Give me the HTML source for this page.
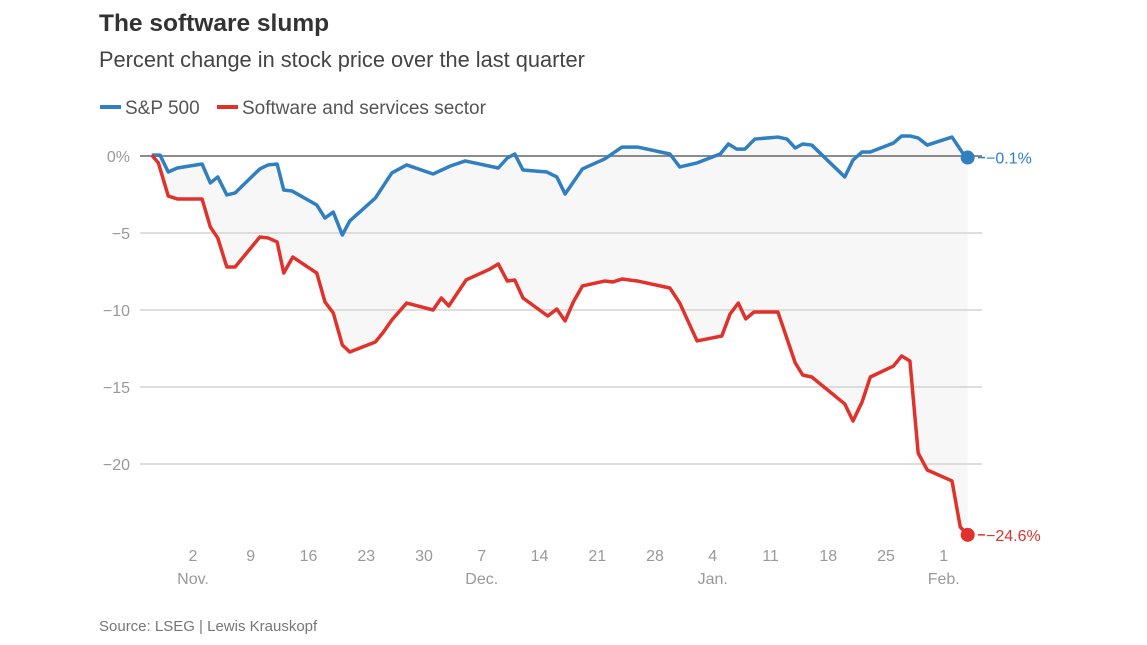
<!DOCTYPE html>
<html><head><meta charset="utf-8"><style>
body{margin:0;background:#fff;width:1147px;height:645px;overflow:hidden;font-family:"Liberation Sans",sans-serif}
</style></head><body>
<svg width="1147" height="645" style="position:absolute;left:0;top:0">
<text x="99" y="31" font-size="24.5" font-weight="bold" fill="#333">The software slump</text>
<text x="99" y="67" font-size="21.8" fill="#444">Percent change in stock price over the last quarter</text>
<g>
<line x1="100" y1="107" x2="121" y2="107" stroke="#2f7fc1" stroke-width="4"/>
<text x="125" y="114" font-size="19" fill="#555">S&amp;P 500</text>
<line x1="217" y1="107" x2="238" y2="107" stroke="#e0312b" stroke-width="4"/>
<text x="242" y="114" font-size="19" fill="#555">Software and services sector</text>
</g>
<g id="grid"></g><g id="marks"></g><g id="labels"></g>
<text x="99" y="631" font-size="15" fill="#777">Source: LSEG | Lewis Krauskopf</text>
</svg>
<script>
const yTicks=[0,-5,-10,-15,-20];
const yTickLabels=["0%","−5","−10","−15","−20"];
const xTickDays=[0,7,14,21,28,35,42,49,56,63,70,77,84,91];
const xTickLabels=["2","9","16","23","30","7","14","21","28","4","11","18","25","1"];
const monthLabels=[[0,"Nov."],[35,"Dec."],[63,"Jan."],[91,"Feb."]];
const spDays=[-5,-4,-3,-1.9,1.1,2.1,3,4.1,5.1,8.1,9.1,10.2,11,12,15,16,17,18.1,19,22.1,24.1,25.9,29.1,31.2,33,37,38.1,39,40,42.9,44.1,45.1,47.2,49.9,52,53.9,57.8,59,61.1,63.9,64.9,65.9,66.9,68.1,70.9,72,73,73.9,75,79,80,81.1,82.1,84.9,85.9,86.9,87.9,89,92,93.3,93.9];
const spValues=[0.06,0.06,-1.04,-0.78,-0.52,-1.75,-1.36,-2.53,-2.4,-0.84,-0.58,-0.52,-2.21,-2.27,-3.18,-4.03,-3.64,-5.13,-4.22,-2.73,-1.1,-0.58,-1.17,-0.65,-0.32,-0.78,-0.13,0.13,-0.91,-1.04,-1.36,-2.47,-0.84,-0.19,0.58,0.58,0.13,-0.71,-0.45,0.13,0.78,0.45,0.45,1.1,1.23,1.1,0.52,0.78,0.71,-1.36,-0.26,0.26,0.26,0.84,1.3,1.3,1.17,0.71,1.23,0.19,-0.1];
const swDays=[-5,-4.2,-3,-1.9,1.1,2.1,3,4.1,5.1,8.1,9.1,10.2,11,12.1,15,16,17,18.1,19,22.1,23,24.1,25.9,29.1,30.1,31,33.1,36,37,38.1,39,40,43,44.1,45.1,46.1,47.2,49.9,50.9,52,53.9,57.8,59,61.1,64.1,65.1,66.1,67,68,70.9,73,73.9,75,79,80,81.1,82.1,84.9,85.9,86.9,87.9,89,92,93,93.9];
const swValues=[0.06,-0.45,-2.6,-2.79,-2.79,-4.61,-5.32,-7.21,-7.21,-5.26,-5.32,-5.58,-7.6,-6.56,-7.6,-9.48,-10.19,-12.27,-12.73,-12.08,-11.49,-10.65,-9.55,-10,-9.22,-9.74,-8.05,-7.34,-7.01,-8.12,-8.05,-9.22,-10.39,-9.94,-10.71,-9.48,-8.44,-8.12,-8.18,-7.99,-8.12,-8.57,-9.55,-12.01,-11.69,-10.26,-9.55,-10.58,-10.13,-10.13,-13.44,-14.22,-14.35,-16.1,-17.21,-15.97,-14.35,-13.64,-12.99,-13.31,-19.29,-20.39,-21.1,-24.09,-24.6];
const X=d=>193+d*8.25, Y=v=>156-v*15.4;
const NS="http://www.w3.org/2000/svg";
function mk(t,a,p){const e=document.createElementNS(NS,t);for(const k in a)e.setAttribute(k,a[k]);p.appendChild(e);return e;}
const grid=document.getElementById('grid'),marks=document.getElementById('marks'),labels=document.getElementById('labels');
yTicks.forEach((v,i)=>{
 const l=mk('line',{x1:140,x2:982,y1:Y(v),y2:Y(v),stroke:v===0?'#666':'#d4d4d4','stroke-width':1.5},grid);
 
 
 const t=mk('text',{x:130,y:Y(v)+6,'text-anchor':'end','font-size':16,fill:'#999'},labels);
 t.textContent=yTickLabels[i];
 
 
});
xTickDays.forEach((d,i)=>{
 const t=mk('text',{x:X(d),y:561,'text-anchor':'middle','font-size':16,fill:'#999'},labels);
 t.textContent=xTickLabels[i];
 
 
});
monthLabels.forEach(m=>{
 const t=mk('text',{x:X(m[0]),y:584,'text-anchor':'middle','font-size':16,fill:'#999'},labels);
 t.textContent=m[1];
 
 
});
const sp=spDays.map((d,i)=>X(d)+','+Y(spValues[i]));
const sw=swDays.map((d,i)=>X(d)+','+Y(swValues[i]));
const area=mk('polygon',{points:sp.concat(sw.slice().reverse()).join(' '),fill:'#f7f7f7'},marks);


grid.parentNode.insertBefore(marks,grid);
const l1=mk('polyline',{points:sp.join(' '),fill:'none',stroke:'#2f7fc1','stroke-width':3.5,'stroke-linejoin':'round'},labels);


const l2=mk('polyline',{points:sw.join(' '),fill:'none',stroke:'#e0312b','stroke-width':3.5,'stroke-linejoin':'round'},labels);


const spL=spValues.length-1, swL=swValues.length-1;
const d1=mk('circle',{cx:X(spDays[spL]),cy:Y(spValues[spL]),r:7,fill:'#2f7fc1'},labels);


const d2=mk('circle',{cx:X(swDays[swL]),cy:Y(swValues[swL]),r:7,fill:'#e0312b'},labels);


[[spL,spDays,spValues,'#2f7fc1','sp500-end-label'],[swL,swDays,swValues,'#e0312b','software-end-label']].forEach(s=>{
 const y=Y(s[2][s[0]]);
 mk('line',{x1:978,x2:985,y1:y,y2:y,stroke:s[3],'stroke-width':1.5},labels);
 const t=mk('text',{x:986,y:y+6,'font-size':16,fill:s[3]},labels);
 t.textContent='−'+Math.abs(s[2][s[0]]).toFixed(1)+'%';
 
 
});
</script>
</body></html>
